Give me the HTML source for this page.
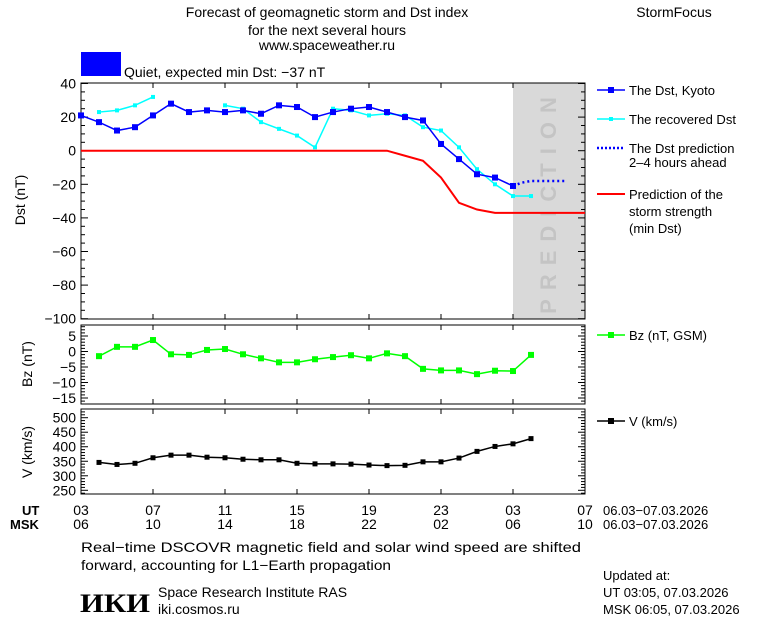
<!DOCTYPE html>
<html><head><meta charset="utf-8"><style>
html,body{margin:0;padding:0;background:#fff;}
svg{display:block;font-family:"Liberation Sans",sans-serif;}
</style></head><body>
<svg id="chart" width="760" height="620" viewBox="0 0 760 620" xmlns="http://www.w3.org/2000/svg">
<g font-size="14" fill="#000">
<text x="327" y="17" text-anchor="middle">Forecast of geomagnetic storm and Dst index</text>
<text x="327" y="35" text-anchor="middle">for the next several hours</text>
<text x="327" y="50" text-anchor="middle">www.spaceweather.ru</text>
<text x="674" y="17" text-anchor="middle">StormFocus</text>
</g>
<rect x="81" y="52" width="40" height="24" fill="#0000ff"/>
<text x="124" y="77" font-size="14">Quiet, expected min Dst: −37 nT</text>
<g id="plots"></g>
<g font-size="13">
<g><line x1="597" y1="90" x2="625" y2="90" stroke="#0000ff" stroke-width="1.5"/><rect x="608" y="87" width="6" height="6" fill="#0000ff"/><text x="629" y="95">The Dst, Kyoto</text></g>
<g><line x1="597" y1="119" x2="625" y2="119" stroke="#00ffff" stroke-width="1.5"/><rect x="609" y="117" width="4" height="4" fill="#00ffff"/><text x="629" y="124">The recovered Dst</text></g>
<g><line x1="597" y1="148" x2="625" y2="148" stroke="#0000ff" stroke-width="2.5" stroke-dasharray="2,2"/><text x="629" y="153">The Dst prediction</text><text x="629" y="167">2–4 hours ahead</text></g>
<g><line x1="597" y1="194" x2="625" y2="194" stroke="#ff0000" stroke-width="2"/><text x="629" y="199">Prediction of the</text><text x="629" y="216">storm strength</text><text x="629" y="233">(min Dst)</text></g>
<g><line x1="597" y1="335" x2="625" y2="335" stroke="#00ff00" stroke-width="1.5"/><rect x="608" y="332" width="6" height="6" fill="#00ff00"/><text x="629" y="340">Bz (nT, GSM)</text></g>
<g><line x1="597" y1="421" x2="625" y2="421" stroke="#000" stroke-width="1.5"/><rect x="608" y="418" width="6" height="6" fill="#000"/><text x="629" y="426">V (km/s)</text></g>
</g>
<g font-size="13">
<text x="22" y="515" font-weight="bold">UT</text>
<text x="10" y="529" font-weight="bold">MSK</text>
<text x="603" y="515">06.03−07.03.2026</text>
<text x="603" y="529">06.03−07.03.2026</text>
<text x="81" y="552" font-size="14" textLength="500" lengthAdjust="spacingAndGlyphs">Real−time DSCOVR magnetic field and solar wind speed are shifted</text>
<text x="81" y="570" font-size="14" textLength="310" lengthAdjust="spacingAndGlyphs">forward, accounting for L1−Earth propagation</text>
<text x="80" y="612" font-size="26" font-weight="bold" font-family="Liberation Serif,serif" textLength="70" lengthAdjust="spacingAndGlyphs">ИКИ</text>
<text x="158" y="597" font-size="14">Space Research Institute RAS</text>
<text x="158" y="614" font-size="14">iki.cosmos.ru</text>
<text x="603" y="580">Updated at:</text>
<text x="603" y="597">UT   03:05, 07.03.2026</text>
<text x="603" y="614">MSK 06:05, 07.03.2026</text>
</g>
</svg>
<script>
const NS="http://www.w3.org/2000/svg";
const dstKyoto=[21,17,12,14,21,28,23,24,23,24,22,27,26,20,23,25,26,23,20,18,4,-5,-14,-16,-21];
const dstRecoveredHours=[1,2,3,4,8,9,10,11,12,13,14,15,16,17,18,19,20,21,22,23,24,25];
const dstRecovered=[23,24,27,32,27,25,17,13,9,2,25,24,21,22,21,14,12,2,-11,-20,-27,-27];
const dstPredHours=[24,24.5,25,26,27];
const dstPred=[-21,-19,-18,-18,-18];
const stormHours=[0,17,18,19,20,21,22,23,28];
const stormDst=[0,0,-3,-6,-16,-31,-35,-37,-37];
const bz=[-1.5,1.5,1.5,3.7,-0.9,-1.1,0.5,0.8,-0.9,-2.2,-3.5,-3.5,-2.5,-1.8,-1.2,-2.2,-0.6,-1.5,-5.6,-6.1,-6.1,-7.3,-6.2,-6.3,-1.1];
const vel=[346,339,343,362,371,371,364,362,357,355,355,343,341,341,340,337,335,336,348,348,361,384,401,410,428];
const dstTicks=[40,20,0,-20,-40,-60,-80,-100];
const bzTicks=[5,0,-5,-10,-15];
const vTicks=[500,450,400,350,300,250];
const utLabels=["03","07","11","15","19","23","03","07"];
const mskLabels=["06","10","14","18","22","02","06","10"];

const X0=81,X1=585;
const xh=h=>X0+h*(X1-X0)/28;
const yDst=v=>150.7-v*1.68;
const yBz=v=>351.5-v*3.1;
const yV=v=>417.7+(500-v)*0.2904;
const root=document.getElementById('plots');
function mk(tag,attrs,parent){const e=document.createElementNS(NS,tag);for(const k in attrs)e.setAttribute(k,attrs[k]);(parent||root).appendChild(e);return e;}

const band=mk('rect',{x:xh(24),y:83,width:xh(28)-xh(24),height:236,fill:'#d9d9d9'});


const pt=mk('text',{x:0,y:0,transform:`translate(${xh(26)+7},${201}) rotate(-90)`,'text-anchor':'middle','font-size':'22','fill':'#c4c4c4','letter-spacing':'9','font-weight':'bold'});
pt.textContent='PREDICTION';



function panel(name,top,bot,ticks,yf,minorStep,lo,hi){
  const g=mk('g',{});
  
  
  mk('rect',{x:X0,y:top,width:X1-X0,height:bot-top,fill:'none',stroke:'#000','stroke-width':1},g);
  for(let v=Math.ceil(lo/minorStep)*minorStep;v<=hi;v+=minorStep){
    const y=yf(v);if(y<top||y>bot)continue;
    const major=ticks.includes(v);const L=major?7:4;
    mk('line',{x1:X0,y1:y,x2:X0+L,y2:y,stroke:'#000'},g);
    mk('line',{x1:X1,y1:y,x2:X1-L,y2:y,stroke:'#000'},g);
  }
  ticks.forEach(v=>{const t=mk('text',{x:76,y:yf(v)+5,'text-anchor':'end','font-size':'14'},g);t.textContent=String(v).replace('-','−');
    
    });
  for(let h=0;h<=28;h+=4){mk('line',{x1:xh(h),y1:bot,x2:xh(h),y2:bot-5,stroke:'#000'},g);mk('line',{x1:xh(h),y1:top,x2:xh(h),y2:top+5,stroke:'#000'},g);}
  return g;
}
panel('dst-panel',83,319,dstTicks,yDst,5,-100,41);
panel('bz-panel',325,404,bzTicks,yBz,1,-17,8);
panel('v-panel',409,494,vTicks,yV,10,230,520);

function axisTitle(txt,x,y,name){const t=mk('text',{x:0,y:0,transform:`translate(${x},${y}) rotate(-90)`,'text-anchor':'middle','font-size':'14'});t.textContent=txt;
  
  }
axisTitle('Dst (nT)',25,200,'dst-axis-title');
axisTitle('Bz (nT)',32,364,'bz-axis-title');
axisTitle('V (km/s)',32,452,'v-axis-title');

utLabels.forEach((l,i)=>{const t=mk('text',{x:xh(i*4),y:515,'text-anchor':'middle','font-size':'14'});t.textContent=l;
  
  });
mskLabels.forEach((l,i)=>{const t=mk('text',{x:xh(i*4),y:529,'text-anchor':'middle','font-size':'14'});t.textContent=l;
  
  });

function series(name,hours,vals,yf,color,sz,extra,breakGaps){
  const g=mk('g',{});
  
  
  let d='',prev=null;
  hours.forEach((h,i)=>{const x=xh(h),y=yf(vals[i]);const cont=prev!==null&&(!breakGaps||h-prev<=1);d+=(cont?'L':'M')+x+' '+y;prev=h;});
  mk('path',Object.assign({d:d,fill:'none',stroke:color,'stroke-width':1.5},extra||{}),g);
  if(sz)hours.forEach((h,i)=>{const r=mk('rect',{x:xh(h)-sz/2,y:yf(vals[i])-sz/2,width:sz,height:sz,fill:color},g);
    
    });
}
const hrs=n=>Array.from({length:n},(_,i)=>i);
series('storm-strength-line',stormHours,stormDst,yDst,'#ff0000',0,{'stroke-width':2},false);
series('recovered-dst-series',dstRecoveredHours,dstRecovered,yDst,'#00ffff',4,null,true);
series('dst-kyoto-series',hrs(dstKyoto.length),dstKyoto,yDst,'#0000ff',6,null,false);
series('dst-prediction-line',dstPredHours,dstPred,yDst,'#0000ff',0,{'stroke-width':2.5,'stroke-dasharray':'2,3'},false);
series('bz-series',hrs(bz.length).map(h=>h+1),bz,yBz,'#00ff00',6,null,false);
series('v-series',hrs(vel.length).map(h=>h+1),vel,yV,'#000000',5,null,false);
</script>
</body></html>
